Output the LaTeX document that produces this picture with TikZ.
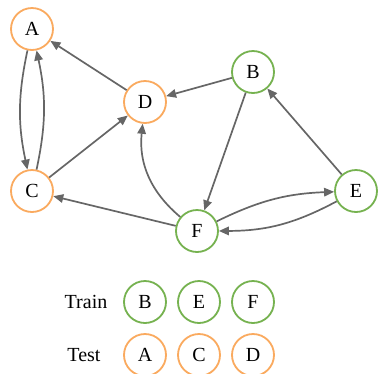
\documentclass[tikz,border=0pt]{standalone}
\usepackage{fontspec}
\setmainfont{Liberation Serif}
\usetikzlibrary{arrows.meta}
\definecolor{trainclr}{RGB}{118,178,80}
\definecolor{testclr}{RGB}{250,170,95}
\definecolor{edgeclr}{RGB}{102,102,102}
\begin{document}
\begin{tikzpicture}[x=1pt,y=-1pt,
  vtx/.style={circle,line width=1.8pt,minimum size=42pt,inner sep=0pt,font=\fontsize{20}{20}\selectfont,fill=white},
  train/.style={vtx,draw=trainclr},
  test/.style={vtx,draw=testclr},
  lbl/.style={font=\fontsize{20}{20}\selectfont},
  link/.style={draw=edgeclr,line width=1.7pt,-{Triangle[length=10pt,width=8.5pt]}}]
\useasboundingbox (0,0) rectangle (378,373);
% graph vertices
\node[test]  (A) at (32,29)   {A};
\node[test]  (D) at (145,102) {D};
\node[train] (B) at (253,72)  {B};
\node[test]  (C) at (32,191)  {C};
\node[train] (F) at (197,231) {F};
\node[train] (E) at (356,191) {E};
% edges
\draw[link] (D) -- (A);
\draw[link] (A) to[bend right=12] (C);
\draw[link] (C) to[bend right=12] (A);
\draw[link] (C) -- (D);
\draw[link] (B) -- (D);
\draw[link] (B) -- (F);
\draw[link] (E) -- (B);
\draw[link] (F) -- (C);
\draw[link] (F) to[bend left=28] (D);
\draw[link] (F) to[bend left=12] (E);
\draw[link] (E) to[bend left=14] (F);
% legend
\node[lbl] (trainlbl) at (86,302) {Train};
\node[train] (lB) at (145,302) {B};
\node[train] (lE) at (199,302) {E};
\node[train] (lF) at (253,302) {F};
\node[lbl] (testlbl) at (84,355) {Test};
\node[test] (lA) at (145,355) {A};
\node[test] (lC) at (199,355) {C};
\node[test] (lD) at (253,355) {D};
\end{tikzpicture}
\end{document}
